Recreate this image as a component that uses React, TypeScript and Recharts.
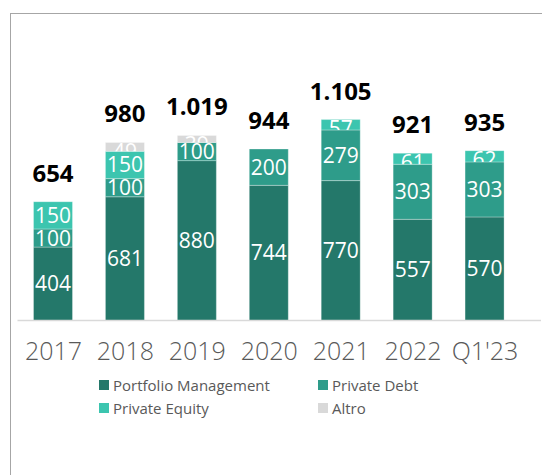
import React from 'react';
import { BarChart, Bar, XAxis, YAxis, LabelList } from 'recharts';

const categories = ['2017', '2018', '2019', '2020', '2021', '2022', "Q1'23"];
const portfolioManagement = [404, 681, 880, 744, 770, 557, 570];
const privateDebt = [100, 100, 100, 200, 279, 303, 303];
const privateEquity = [150, 150, 0, 0, 57, 61, 62];
const altro = [0, 49, 39, 0, 0, 0, 0];
const totals = [654, 980, 1019, 944, 1105, 921, 935];

const seriesNames = ['Portfolio Management', 'Private Debt', 'Private Equity', 'Altro'];
const seriesKeys = ['pm', 'pd', 'pe', 'altro'];
const seriesColors = ['#24786A', '#2E9C8A', '#3CC5AF', '#D9D9D9'];

const data = categories.map((c, i) => ({
  name: c,
  pm: portfolioManagement[i],
  pd: privateDebt[i],
  pe: privateEquity[i],
  altro: altro[i],
  total: totals[i],
}));

const FONT = '"Open Sans", "Noto Sans", sans-serif';

const fmtThousands = (v: number) => String(v).replace(/\B(?=(\d{3})+(?!\d))/g, '.');

const makeSegLabel = (key: string) => (props: any) => {
  const { x, y, width, height, value, index } = props;
  if (!value) return null;
  const id = `clip-${key}-${index}`;
  const fs = 21;
  const cy = Math.max(y + height / 2, y + 9);
  return (
    <g>
      <defs>
        <clipPath id={id}>
          <rect x={x} y={y} width={width} height={height} />
        </clipPath>
      </defs>
      <text
        x={x + width / 2}
        y={cy + fs * 0.357}
        textAnchor="middle"
        fill="#ffffff"
        fontSize={fs}
        fontFamily={FONT}
        clipPath={`url(#${id})`}
      >
        {value}
      </text>
    </g>
  );
};

// Drawn from the Portfolio Management bar (never zero): the stack top is found
// by scaling the remaining segments with that bar's own px-per-unit ratio.
const TotalLabel = (props: any) => {
  const { x, y, width, height, index } = props;
  const scale = height / portfolioManagement[index];
  const topY = y - (privateDebt[index] + privateEquity[index] + altro[index]) * scale;
  return (
    <text
      x={x + width / 2}
      y={topY - 20}
      textAnchor="middle"
      fill="#000000"
      fontSize={24}
      fontWeight={700}
      fontFamily={FONT}
    >
      {fmtThousands(totals[index])}
    </text>
  );
};

const legendPos = [
  { left: 99, top: 379 },
  { left: 318, top: 379 },
  { left: 99, top: 402 },
  { left: 318, top: 402 },
];

const LegendBlock = () => (
  <>
    {seriesNames.map((n, i) => (
      <div
        key={n}
        style={{
          position: 'absolute',
          left: legendPos[i].left,
          top: legendPos[i].top,
          display: 'flex',
          alignItems: 'center',
          fontFamily: FONT,
          fontSize: 15,
          color: '#595959',
          lineHeight: '12px',
          whiteSpace: 'nowrap',
        }}
      >
        <span style={{ display: 'inline-block', width: 10, height: 10, background: seriesColors[i], marginRight: 4 }} />
        <span>{n}</span>
      </div>
    ))}
  </>
);

export default function App() {
  return (
    <div style={{ position: 'absolute', left: 0, top: 0, width: 542, height: 475, background: '#fff', overflow: 'hidden' }}>
      <div
        style={{
          position: 'absolute',
          left: 10,
          top: 13,
          width: 600,
          height: 520,
          borderLeft: '1.5px solid #A6A6A6',
          borderTop: '1.5px solid #A6A6A6',
        }}
      />
      <div style={{ position: 'absolute', left: 0, top: 0 }}>
        <BarChart
          width={542}
          height={475}
          data={data}
          margin={{ top: 102.5, right: 1, bottom: 114.5, left: 17.5 }}
          barSize={39}
        >
          <YAxis hide domain={[0, 1200]} />
          <XAxis
            dataKey="name"
            height={40}
            padding={{ left: 0, right: 20 }}
            tickLine={false}
            tickSize={0}
            tickMargin={22}
            axisLine={{ stroke: '#D9D9D9', strokeWidth: 1.5 }}
            tick={{ fill: '#595959', fontSize: 25, fontFamily: FONT, fontWeight: 300 }}
            interval={0}
          />
          {seriesKeys.map((k, i) => (
            <Bar
              key={k}
              dataKey={k}
              name={seriesNames[i]}
              stackId="a"
              fill={seriesColors[i]}
              stroke="#ffffff"
              strokeOpacity={0.3}
              strokeWidth={1}
              isAnimationActive={false}
            >
              <LabelList dataKey={k} content={makeSegLabel(k)} />
              {k === 'pm' ? <LabelList dataKey="total" content={TotalLabel} /> : null}
            </Bar>
          ))}
        </BarChart>
      </div>
      <LegendBlock />
    </div>
  );
}
